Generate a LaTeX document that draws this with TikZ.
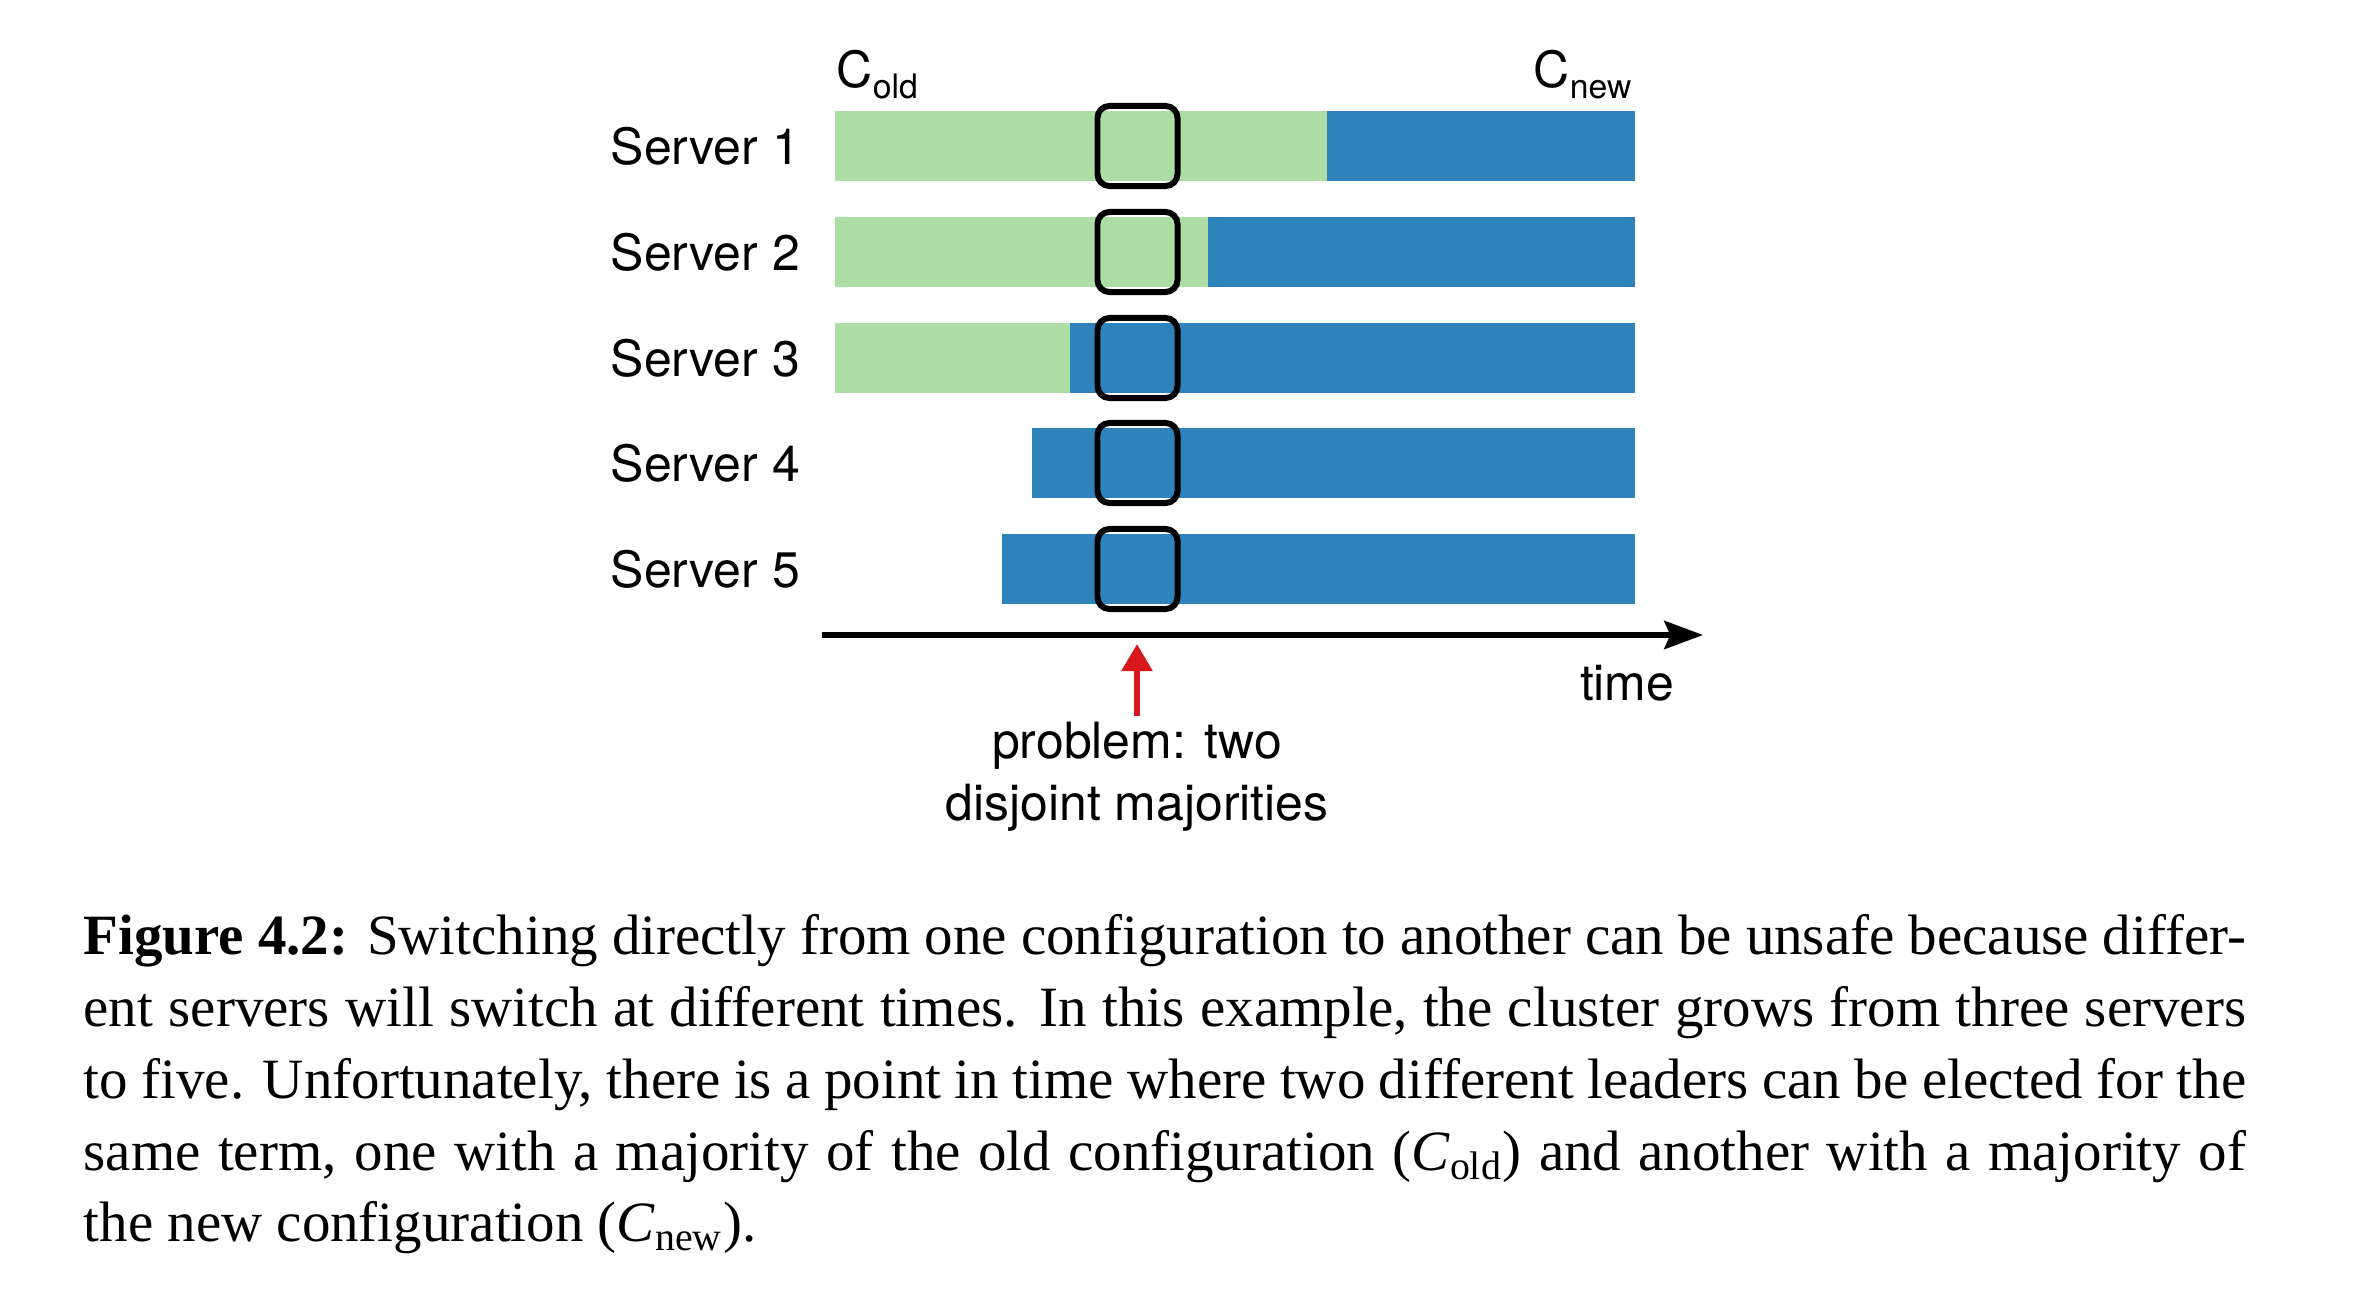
\documentclass[tikz,border=0pt]{standalone}
\usepackage{fontspec}
\setmainfont{Liberation Serif}
\newfontfamily\diagfont{TeX Gyre Heros}
\usepackage{tikz}
\definecolor{OldGreen}{RGB}{173,221,165}
\definecolor{NewBlue}{RGB}{45,131,186}
\definecolor{ProblemRed}{RGB}{215,25,28}
\usetikzlibrary{
	positioning,
	calc,
	arrows.meta
}
\newcommand{\cname}[1]{C\raisebox{-3.1pt}{\fontsize{9.6pt}{10pt}\selectfont #1}}
\newcommand{\capcfg}[1]{\textit{C}\textsubscript{#1}}

\begin{document}
\begin{tikzpicture}[
		x=0.01cm, y=-0.01cm,
		tag/.style={font=\diagfont\fontsize{14.2pt}{17.4pt}\selectfont, inner sep=0pt},
		server/.style={tag, anchor=west},
		oldcfg/.style={fill=OldGreen},
		newcfg/.style={fill=NewBlue},
		window/.style={draw, line width=1.7pt, rounded corners=3.4pt, minimum width=0.8cm, minimum height=0.8cm, inner sep=0pt}
	]
		\useasboundingbox (0,0) rectangle (2360,1300);

		% configuration bars
		\fill[oldcfg] (835,111) rectangle (1327,181);
		\fill[newcfg] (1327,111) rectangle (1635,181);
		\fill[oldcfg] (835,217) rectangle (1208,287);
		\fill[newcfg] (1208,217) rectangle (1635,287);
		\fill[oldcfg] (835,323) rectangle (1070,393);
		\fill[newcfg] (1070,323) rectangle (1635,393);
		\fill[newcfg] (1032,428) rectangle (1635,498);
		\fill[newcfg] (1002,534) rectangle (1635,604);

		\node[server] (s1) at (610,146) {Server 1};
		\node[server] (s2) at (610,252) {Server 2};
		\node[server] (s3) at (610,358) {Server 3};
		\node[server] (s4) at (610,463) {Server 4};
		\node[server] (s5) at (610,569) {Server 5};

		\node[tag, anchor=base west] (cold) at (836,88) {\cname{old}};
		\node[tag, anchor=base west] (cnew) at (1533,88) {\cname{new}};

		% the moment with two majorities
		\node[window] (w1) at (1137.5,146) {};
		\node[window] (w2) at (1137.5,252) {};
		\node[window] (w3) at (1137.5,358) {};
		\node[window] (w4) at (1137.5,463) {};
		\node[window] (w5) at (1137.5,569) {};

		\begin{scope}[
			every path/.style={line width=1.7pt}]

			\coordinate (tstart) at (822,635);
			\coordinate (tend) at (1703,635);
			\draw[-{Stealth[length=11pt, width=8pt, inset=1.7pt]}] (tstart) -- (tend);
			\node[tag, anchor=base west] (time) at (1577,700) {time};

			\node[tag, align=center, anchor=north, inner sep=1pt] (problem) at (1137,716) {problem: two\\disjoint majorities};
			\coordinate (hit) at (1137,644);
			\draw[ProblemRed, -{Triangle[length=7.7pt, width=8.5pt]}] (problem.north) -- (hit);

		\end{scope}

		\node[anchor=north west, inner sep=0pt, text width=614.9pt, align=justify,
			font=\fontsize{16.2pt}{20.4pt}\selectfont] (caption) at (83,914)
			{\hyphenpenalty=10000\tolerance=9999
			\textbf{Figure 4.2:} Switching directly from one configuration to another can be unsafe because differ-\linebreak
			ent servers will switch at different times. In this example, the cluster grows from three servers\linebreak
			to five. Unfortunately, there is a point in time where two different leaders can be elected for the\linebreak
			same term, one with a majority of the old configuration (\capcfg{old}) and another with a majority of\linebreak
			the new configuration (\capcfg{new}).};

	\end{tikzpicture}
\end{document}
